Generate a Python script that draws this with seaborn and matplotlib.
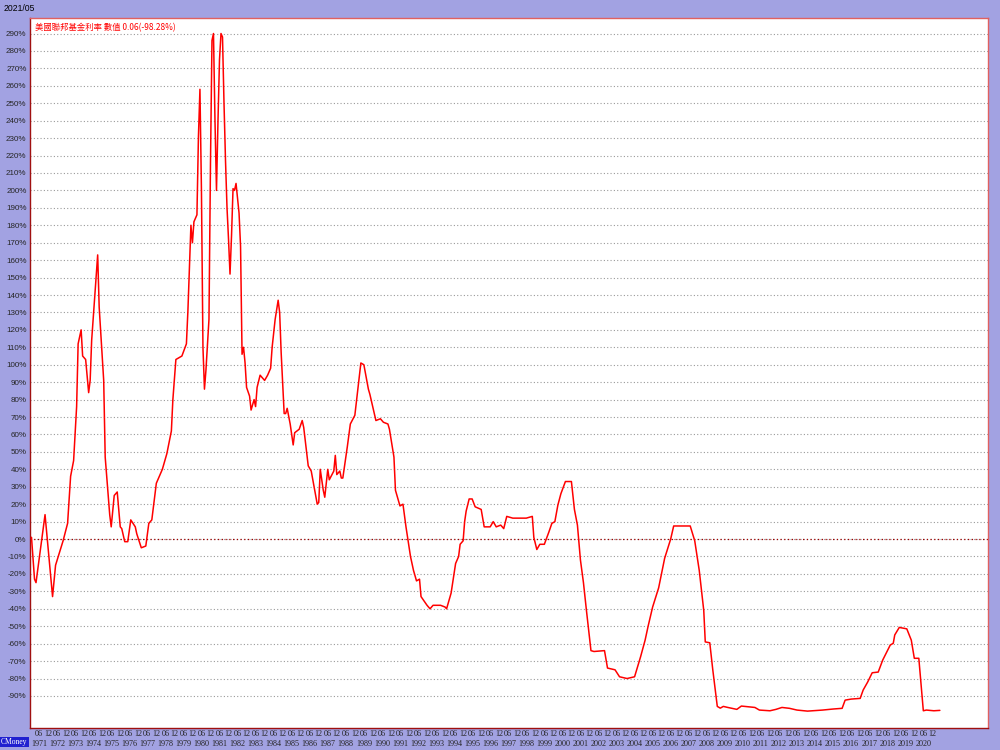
import matplotlib
matplotlib.use("Agg")
import matplotlib.pyplot as plt
import pandas as pd
import seaborn as sns

# US federal funds rate, year-over-year change (%)
months = [
    "1971-01", "1971-03", "1971-04", "1971-10", "1972-03", "1972-05", "1972-10",
    "1973-01", "1973-03", "1973-05", "1973-07", "1973-08", "1973-10", "1973-11",
    "1974-01", "1974-03", "1974-04", "1974-05", "1974-09", "1974-10",
    "1975-01", "1975-02", "1975-05", "1975-06", "1975-08", "1975-10", "1975-12",
    "1976-01", "1976-03", "1976-05", "1976-07", "1976-10", "1976-11",
    "1977-02", "1977-05", "1977-07", "1977-09", "1977-12",
    "1978-04", "1978-07", "1978-10", "1978-11",
    "1979-01", "1979-05", "1979-08", "1979-09", "1979-11", "1979-12",
    "1980-01", "1980-03", "1980-04", "1980-05", "1980-06", "1980-07", "1980-08",
    "1980-09", "1980-11", "1980-12",
    "1981-01", "1981-02", "1981-03", "1981-04", "1981-05", "1981-06", "1981-07",
    "1981-08", "1981-09", "1981-10", "1981-11", "1981-12",
    "1982-01", "1982-02", "1982-03", "1982-04", "1982-05", "1982-07", "1982-08",
    "1982-09", "1982-10", "1982-11", "1982-12",
    "1983-02", "1983-03", "1983-05", "1983-06", "1983-07", "1983-09", "1983-10",
    "1983-12", "1984-02", "1984-04", "1984-05", "1984-07", "1984-09", "1984-10",
    "1984-11", "1985-01", "1985-02", "1985-03", "1985-05", "1985-07", "1985-08",
    "1985-11", "1986-01", "1986-02", "1986-05", "1986-07", "1986-11", "1986-12",
    "1987-01", "1987-03", "1987-04", "1987-06", "1987-07", "1987-10", "1987-11",
    "1987-12", "1988-02", "1988-03", "1988-04", "1988-07", "1988-09", "1988-12",
    "1989-04", "1989-06", "1989-09", "1989-10", "1990-02", "1990-05", "1990-07",
    "1990-10", "1990-11", "1991-02", "1991-03", "1991-06", "1991-08", "1991-10",
    "1992-01", "1992-03", "1992-05", "1992-07", "1992-08", "1992-12",
    "1993-02", "1993-04", "1993-09", "1993-12", "1994-01", "1994-02", "1994-04",
    "1994-07", "1994-09", "1994-10", "1994-12", "1995-01", "1995-02", "1995-04",
    "1995-06", "1995-08", "1995-12", "1996-02", "1996-06", "1996-08", "1996-10",
    "1997-01", "1997-03", "1997-05", "1997-09", "1998-02", "1998-06", "1998-10",
    "1998-11", "1999-01", "1999-03", "1999-06", "1999-09", "1999-11",
    "2000-01", "2000-03", "2000-05", "2000-08", "2000-12", "2001-02", "2001-04",
    "2001-06", "2001-08", "2001-10", "2002-01", "2002-03", "2002-10", "2002-12",
    "2003-05", "2003-08", "2004-01", "2004-06", "2004-10", "2005-01", "2005-03",
    "2005-06", "2005-10", "2006-02", "2006-06", "2006-08", "2007-02", "2007-07",
    "2007-10", "2008-01", "2008-04", "2008-05", "2008-08", "2008-10",
    "2009-01", "2009-03", "2009-05", "2009-08", "2010-02", "2010-05",
    "2011-02", "2011-05", "2011-12", "2012-04", "2012-08", "2013-01", "2013-06",
    "2014-01", "2014-11", "2015-06", "2015-12", "2016-02", "2016-06", "2016-12",
    "2017-02", "2017-05", "2017-08", "2017-12", "2018-03", "2018-08", "2018-10",
    "2018-11", "2019-02", "2019-07", "2019-10", "2019-12", "2020-03", "2020-06",
    "2020-08", "2021-01", "2021-05",
]
yoy_pct = [
    1, -23, -25, 14, -33, -15, -1,
    9, 36, 45, 76, 112, 120, 105,
    103, 84, 91, 114, 163, 133,
    91, 47, 14, 7, 25, 27, 7,
    6, -1.5, -1.5, 11, 7, 3,
    -5, -4, 9, 11, 32,
    40, 49, 62, 80,
    103, 105, 112, 131, 180, 170,
    182, 186, 231, 258, 200, 110, 86,
    97, 126, 215,
    286, 290, 240, 200, 240, 275, 290,
    288, 250, 217, 190, 172,
    152, 174, 201, 200, 204, 187, 168,
    106, 110, 101, 87,
    82, 74, 80, 76, 87, 94, 93,
    91, 94, 98, 110, 126, 137, 130,
    107, 72, 72, 75, 66, 54, 61,
    63, 68, 64, 42, 39, 20, 21,
    40, 28, 24, 40, 34, 39, 48,
    37, 39, 35, 35, 53, 66, 71,
    101, 100, 86, 83, 68, 69, 67,
    66, 63, 47, 28, 19, 20, 7,
    -10, -18, -24, -23, -33, -38,
    -40, -38, -38, -39, -40, -37, -31,
    -14, -10, -3, -1, 10, 16, 23,
    23, 18.5, 17, 7, 7, 10, 7,
    8, 6, 13, 12, 12, 12, 13,
    1, -6, -3, -3, 4, 9,
    10, 19.5, 26, 33, 33, 17, 8,
    -12, -25, -41, -64, -64.5, -64, -74,
    -75, -79, -80, -79, -67.5, -58, -50,
    -39, -28, -11, 0, 7.5, 7.5, 7.5,
    -1, -18, -41, -59, -59.5, -75,
    -96, -97, -96, -96.6, -97.7, -95.8,
    -96.6, -98.1, -98.5, -97.7, -96.6, -97.1, -98.1,
    -98.7, -98.1, -97.5, -97.1, -92.4, -91.8, -91.4,
    -86.6, -82, -76.7, -76.3, -69.4, -60.8, -59.8,
    -55, -50.7, -51.5, -58, -68.4, -68.4, -98.5,
    -98.1, -98.5, -98.28,
]
tick_years = list(range(1971, 2021))
y_ticks = list(range(-90, 300, 10))

title_text = "美國聯邦基金利率 數值 0.06(-98.28%)"
date_text = "2021/05"

BG = "#a2a2e2"

df = pd.DataFrame({"month": pd.to_datetime(months), "yoy": yoy_pct})
df["t"] = df["month"].dt.year + (df["month"].dt.month - 1) / 12

sns.set_style("white")
plt.rcParams["font.family"] = ["Liberation Sans", "Noto Sans CJK TC", "DejaVu Sans"]

fig = plt.figure(figsize=(10, 7.5), dpi=100, facecolor=BG)
ax = fig.add_axes([0.030, 0.0293, 0.958, 0.9467])
ax.set_facecolor("white")

ax.yaxis.grid(True, ls=(0, (1, 2)), color="#9a9a9a", lw=0.8)
ax.axhline(0, ls=(0, (1, 2)), color="#a00000", lw=0.9, zorder=1.5)
sns.lineplot(data=df, x="t", y="yoy", color="#ff0000", lw=1.1, ax=ax, zorder=3)

ax.set_xlim(1971 - 1 / 12, 2024.0)
ax.set_ylim(-108.4, 298.9)
ax.set_xlabel("")
ax.set_ylabel("")

ax.set_yticks(y_ticks)
ax.set_yticklabels([f"{v}%" for v in y_ticks], fontsize=5.8)
ax.tick_params(axis="y", length=0, pad=2.5)

# month ticks (06 / 12) as major, year names as minor labels underneath
xt, xl = [], []
for y in tick_years:
    xt += [y + 5 / 12, y + 11 / 12]
    xl += ["06", "12"]
ax.set_xticks(xt)
ax.set_xticklabels(xl, fontsize=5.9, family="Liberation Serif")
ax.xaxis.remove_overlapping_locs = False
ax.set_xticks([y + 5 / 12 for y in tick_years], minor=True)
ax.set_xticklabels([str(y) for y in tick_years], minor=True, fontsize=5.9,
                   family="Liberation Serif")
ax.tick_params(axis="x", which="major", direction="in", length=3.6, width=0.8,
               color="#d02020", pad=1.5)
ax.tick_params(axis="x", which="minor", length=0, pad=8.5)

for side in ["left", "bottom"]:
    ax.spines[side].set_color("#a01010")
    ax.spines[side].set_linewidth(1.0)
for side in ["top", "right"]:
    ax.spines[side].set_color("#e06060")
    ax.spines[side].set_linewidth(1.0)

ax.text(0.005, 0.993, title_text, transform=ax.transAxes, ha="left", va="top",
        fontsize=6, color="#ff0000", family=["Noto Sans CJK TC", "DejaVu Sans"])
fig.text(0.004, 0.995, date_text, ha="left", va="top", fontsize=6.2, color="black")
fig.text(0.001, 0.005, "CMoney", ha="left", va="bottom", fontsize=5.5, color="white",
         family="Liberation Serif",
         bbox=dict(boxstyle="square,pad=0.15", fc="#2020d0", ec="none"))

fig.savefig("out.png", dpi=100, facecolor=BG)
